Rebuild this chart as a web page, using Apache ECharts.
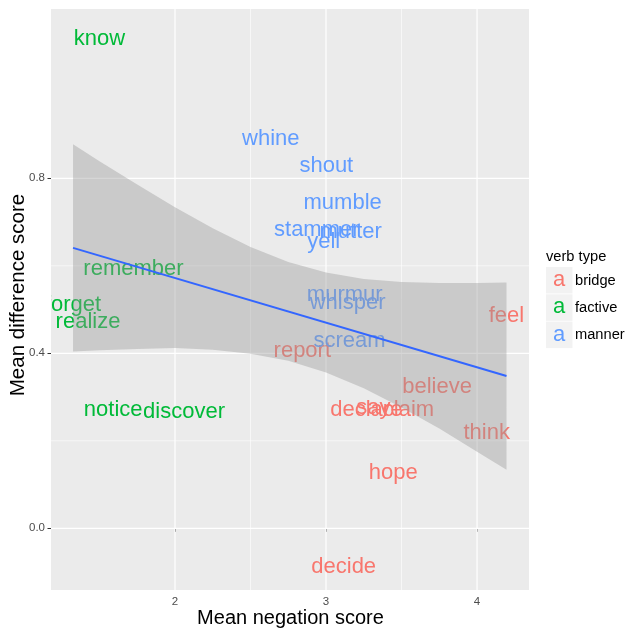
<!DOCTYPE html>
<html>
<head>
<meta charset="utf-8">
<script src="https://cdn.jsdelivr.net/npm/echarts@6/dist/echarts.min.js"></script>
<style>
  html, body { margin: 0; padding: 0; background: #fff; }
  #chart { width: 626px; height: 630px; }
</style>
</head>
<body>
<div id="chart"></div>
<script>
// words per verb type, with mean negation score (x) and mean difference score (y)
const bridgeWords = ['report', 'feel', 'believe', 'declare', 'say', 'claim', 'think', 'hope', 'decide']
const bridgeNeg = [2.843, 4.195, 3.735, 3.267, 3.313, 3.546, 4.064, 3.445, 3.117]
const bridgeDiff = [0.411, 0.489, 0.328, 0.276, 0.280, 0.275, 0.222, 0.132, -0.084]

const factiveWords = ['know', 'remember', 'forget', 'realize', 'notice', 'discover']
const factiveNeg = [1.50, 1.725, 1.325, 1.424, 1.591, 2.06]
const factiveDiff = [1.124, 0.598, 0.516, 0.476, 0.276, 0.270]

const mannerWords = ['whine', 'shout', 'mumble', 'stammer', 'mutter', 'yell', 'murmur', 'whisper', 'scream']
const mannerNeg = [2.634, 3.002, 3.11, 2.939, 3.163, 2.985, 3.124, 3.143, 3.156]
const mannerDiff = [0.895, 0.832, 0.748, 0.687, 0.683, 0.659, 0.539, 0.520, 0.434]

// lm fit and its confidence band
const fitX = [1.325, 4.195]
const fitY = [0.641, 0.348]
const bandX = [1.325, 1.5, 1.75, 2, 2.25, 2.5, 2.75, 3, 3.25, 3.5, 3.75, 4, 4.195]
const bandUpper = [0.878, 0.839, 0.786, 0.734, 0.686, 0.643, 0.609, 0.585, 0.570, 0.563, 0.561, 0.561, 0.562]
const bandLower = [0.404, 0.407, 0.410, 0.412, 0.408, 0.399, 0.383, 0.356, 0.320, 0.276, 0.228, 0.175, 0.134]

const xTicks = [2, 3, 4]
const xMinor = [2.5, 3.5]
const yTicks = [0, 0.4, 0.8]
const yMinor = [0.2, 0.6]

const legendNames = ['bridge', 'factive', 'manner']
const colors = ['#F8766D', '#00BA38', '#619CFF']

const FONT = '"Liberation Sans", Arial, sans-serif'
const xMin = 1.179, xMax = 4.344
const yMin = -0.141, yMax = 1.187

const chart = echarts.init(document.getElementById('chart'), null, { renderer: 'canvas' })

function gridSeries(values, vertical, width) {
  return {
    type: 'custom',
    silent: true,
    z: 1,
    data: values.map(v => vertical ? [v, 0.5] : [2.5, v]),
    renderItem(params, api) {
      const cs = params.coordSys
      const p = api.coord([api.value(0), api.value(1)])
      const shape = vertical
        ? { x1: p[0], y1: cs.y, x2: p[0], y2: cs.y + cs.height }
        : { x1: cs.x, y1: p[1], x2: cs.x + cs.width, y2: p[1] }
      return { type: 'line', shape, style: { stroke: '#FFFFFF', lineWidth: width } }
    }
  }
}

function textSeries(name, words, xs, ys, color) {
  return {
    name,
    type: 'custom',
    clip: true,
    silent: true,
    z: 2,
    data: words.map((w, i) => [xs[i], ys[i]]),
    renderItem(params, api) {
      const p = api.coord([api.value(0), api.value(1)])
      return {
        type: 'text',
        x: p[0],
        y: p[1] + 2, // nudge: visual centre of the glyphs sits lower than the em box centre
        style: {
          text: words[params.dataIndex],
          fill: color,
          font: '22px ' + FONT,
          align: 'center',
          verticalAlign: 'middle'
        }
      }
    }
  }
}

const legendGraphics = [{
  type: 'text', x: 546, y: 257,
  style: { text: 'verb type', font: '14.67px ' + FONT, fill: '#000', verticalAlign: 'middle' }
}]
legendNames.forEach((n, i) => {
  const top = 267 + i * 27.3
  legendGraphics.push(
    { type: 'rect', shape: { x: 546, y: top, width: 26.5, height: 26.5 }, style: { fill: '#F2F2F2' } },
    { type: 'text', x: 559.2, y: top + 13, style: { text: 'a', font: '22px ' + FONT, fill: colors[i], align: 'center', verticalAlign: 'middle' } },
    { type: 'text', x: 575, y: top + 13.5, style: { text: n, font: '14.67px ' + FONT, fill: '#000', verticalAlign: 'middle' } }
  )
})

chart.setOption({
  animation: false,
  grid: {
    left: 51, top: 9, right: 97, bottom: 40,
    show: true, backgroundColor: '#EBEBEB', borderWidth: 0
  },
  xAxis: {
    type: 'value', min: xMin, max: xMax,
    axisLine: { show: false },
    splitLine: { show: false },
    axisTick: { customValues: xTicks, length: 3.5, lineStyle: { color: '#333333', width: 1 } },
    axisLabel: { customValues: xTicks, color: '#4D4D4D', fontSize: 11.5, fontFamily: FONT, margin: 6 }
  },
  yAxis: {
    type: 'value', min: yMin, max: yMax,
    axisLine: { show: false },
    splitLine: { show: false },
    axisTick: { customValues: yTicks, length: 3.5, lineStyle: { color: '#333333', width: 1 } },
    axisLabel: {
      customValues: yTicks, color: '#4D4D4D', fontSize: 11.5, fontFamily: FONT, margin: 6,
      formatter: v => v.toFixed(1)
    }
  },
  graphic: [
    {
      type: 'text', x: 290.5, y: 618,
      style: { text: 'Mean negation score', font: '20px ' + FONT, fill: '#000', align: 'center', verticalAlign: 'middle' }
    },
    {
      type: 'text', x: 18, y: 295, rotation: Math.PI / 2,
      style: { text: 'Mean difference score', font: '20.5px ' + FONT, fill: '#000', align: 'center', verticalAlign: 'middle' }
    }
  ].concat(legendGraphics),
  series: [
    gridSeries(xMinor, true, 0.6),
    gridSeries(yMinor, false, 0.6),
    gridSeries(xTicks, true, 1.2),
    gridSeries(yTicks, false, 1.2),
    textSeries('bridge', bridgeWords, bridgeNeg, bridgeDiff, colors[0]),
    textSeries('factive', factiveWords, factiveNeg, factiveDiff, colors[1]),
    textSeries('manner', mannerWords, mannerNeg, mannerDiff, colors[2]),
    {
      // confidence band
      type: 'custom',
      silent: true,
      z: 3,
      data: [[bandX[0], bandUpper[0]]],
      renderItem(params, api) {
        const pts = []
        bandX.forEach((x, i) => pts.push(api.coord([x, bandUpper[i]])))
        for (let i = bandX.length - 1; i >= 0; i--) pts.push(api.coord([bandX[i], bandLower[i]]))
        return { type: 'polygon', shape: { points: pts }, style: { fill: 'rgba(153,153,153,0.4)' } }
      }
    },
    {
      type: 'line',
      z: 4,
      silent: true,
      showSymbol: false,
      data: fitX.map((x, i) => [x, fitY[i]]),
      lineStyle: { color: '#3366FF', width: 2 }
    }
  ]
})
</script>
</body>
</html>
